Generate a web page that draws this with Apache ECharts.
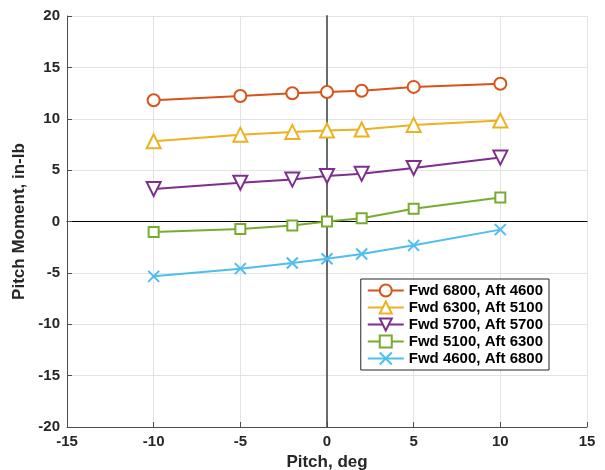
<!DOCTYPE html>
<html>
<head>
<meta charset="utf-8">
<script src="https://cdn.jsdelivr.net/npm/echarts@6/dist/echarts.min.js"></script>
<style>
  html, body { margin: 0; padding: 0; background: #fff; }
  #chart { width: 605px; height: 470px; }
</style>
</head>
<body>
<div id="chart"></div>
<script>
// Pitch sweep (deg) and pitch moment (in-lb) for each fwd/aft load split
const pitch = [-10, -5, -2, 0, 2, 5, 10];
const seriesNames = [
  'Fwd 6800, Aft 4600',
  'Fwd 6300, Aft 5100',
  'Fwd 5700, Aft 5700',
  'Fwd 5100, Aft 6300',
  'Fwd 4600, Aft 6800'
];
const fwd6800 = [11.8, 12.22, 12.48, 12.6, 12.72, 13.1, 13.4];
const fwd6300 = [7.8, 8.45, 8.72, 8.85, 8.95, 9.4, 9.82];
const fwd5700 = [3.17, 3.78, 4.08, 4.43, 4.64, 5.2, 6.22];
const fwd5100 = [-1.02, -0.73, -0.4, 0.0, 0.31, 1.25, 2.33];
const fwd4600 = [-5.34, -4.59, -4.04, -3.62, -3.16, -2.32, -0.79];
const xTicks = [-15, -10, -5, 0, 5, 10, 15];
const yTicks = [-20, -15, -10, -5, 0, 5, 10, 15, 20];

const colors = ['#D95319', '#EDB120', '#7E2F8E', '#77AC30', '#4DBEEE'];
const values = [fwd6800, fwd6300, fwd5700, fwd5100, fwd4600];
const symbols = [
  { symbol: 'emptyCircle', size: 12, rotate: 0 },
  { symbol: 'emptyTriangle', size: 14, rotate: 0 },
  { symbol: 'emptyTriangle', size: 14, rotate: 180 },
  { symbol: 'emptyRect', size: 10, rotate: 0 },
  { symbol: 'path://M0,0L10,10M10,0L0,10', size: 11, rotate: 0 }
];

const font = 'Liberation Sans, Arial, Helvetica, sans-serif';
const axisColor = '#4d4d4d';
const textColor = '#262626';

const series = values.map((v, i) => {
  const s = symbols[i];
  const isPath = s.symbol.startsWith('path://');
  return {
    name: seriesNames[i],
    type: 'line',
    data: pitch.map((p, k) => [p, v[k]]),
    symbol: s.symbol,
    symbolSize: s.size,
    symbolRotate: s.rotate,
    showAllSymbol: true,
    lineStyle: { color: colors[i], width: 2 },
    itemStyle: isPath
      ? { color: colors[i], borderColor: colors[i], borderWidth: 2 }
      : { color: colors[i], borderWidth: 2 },
    emphasis: { disabled: true },
    animation: false,
    z: 3
  };
});

const chart = echarts.init(document.getElementById('chart'), null, { renderer: 'canvas' });
chart.setOption({
  backgroundColor: '#fff',
  animation: false,
  color: colors,
  grid: { left: 67, right: 18, top: 16, bottom: 43, containLabel: false, outerBoundsMode: 'none' },
  legend: {
    right: 56,
    top: 279,
    orient: 'vertical',
    itemWidth: 36,
    itemHeight: 15,
    itemGap: 2,
    padding: [4, 6, 4, 6],
    borderColor: '#262626',
    borderWidth: 1,
    borderRadius: 0,
    backgroundColor: '#fff',
    textStyle: { fontFamily: font, fontWeight: 'bold', fontSize: 15, lineHeight: 15, color: '#000' },
    data: seriesNames
  },
  xAxis: [
    {
      type: 'value', min: -15, max: 15, interval: 5,
      name: 'Pitch, deg', nameLocation: 'middle', nameGap: 19,
      nameTextStyle: { fontFamily: font, fontWeight: 'bold', fontSize: 17, color: textColor },
      axisLine: { onZero: false, lineStyle: { color: axisColor, width: 1 } },
      axisTick: { inside: true, length: 5, lineStyle: { color: axisColor } },
      axisLabel: {
        fontFamily: font, fontWeight: 'bold', fontSize: 15, color: textColor, margin: 7,
        formatter: v => xTicks.includes(v) ? String(v) : ''
      },
      splitLine: { show: true, lineStyle: { color: '#e3e3e3', width: 1 } }
    },
    {
      // horizontal reference line at zero moment
      type: 'value', min: -15, max: 15, interval: 5, position: 'bottom',
      axisLine: { show: true, onZero: true, onZeroAxisIndex: 0, lineStyle: { color: '#000', width: 1 } },
      axisTick: { show: false }, axisLabel: { show: false }, splitLine: { show: false }
    }
  ],
  yAxis: [
    {
      type: 'value', min: -20, max: 20, interval: 5,
      name: 'Pitch Moment, in-lb', nameLocation: 'middle', nameGap: 33,
      nameTextStyle: { fontFamily: font, fontWeight: 'bold', fontSize: 17, color: textColor },
      axisLine: { show: true, onZero: false, lineStyle: { color: axisColor, width: 1 } },
      axisTick: { show: true, inside: true, length: 5, lineStyle: { color: axisColor } },
      axisLabel: {
        fontFamily: font, fontWeight: 'bold', fontSize: 15, color: textColor, margin: 7,
        formatter: v => yTicks.includes(v) ? String(v) : ''
      },
      splitLine: { show: true, lineStyle: { color: '#e3e3e3', width: 1 } }
    },
    {
      // vertical reference line at zero pitch
      type: 'value', min: -20, max: 20, interval: 5, position: 'left',
      axisLine: { show: true, onZero: true, onZeroAxisIndex: 0, lineStyle: { color: '#6b6b6b', width: 2 } },
      axisTick: { show: false }, axisLabel: { show: false }, splitLine: { show: false }
    }
  ],
  series: series
});
</script>
</body>
</html>
